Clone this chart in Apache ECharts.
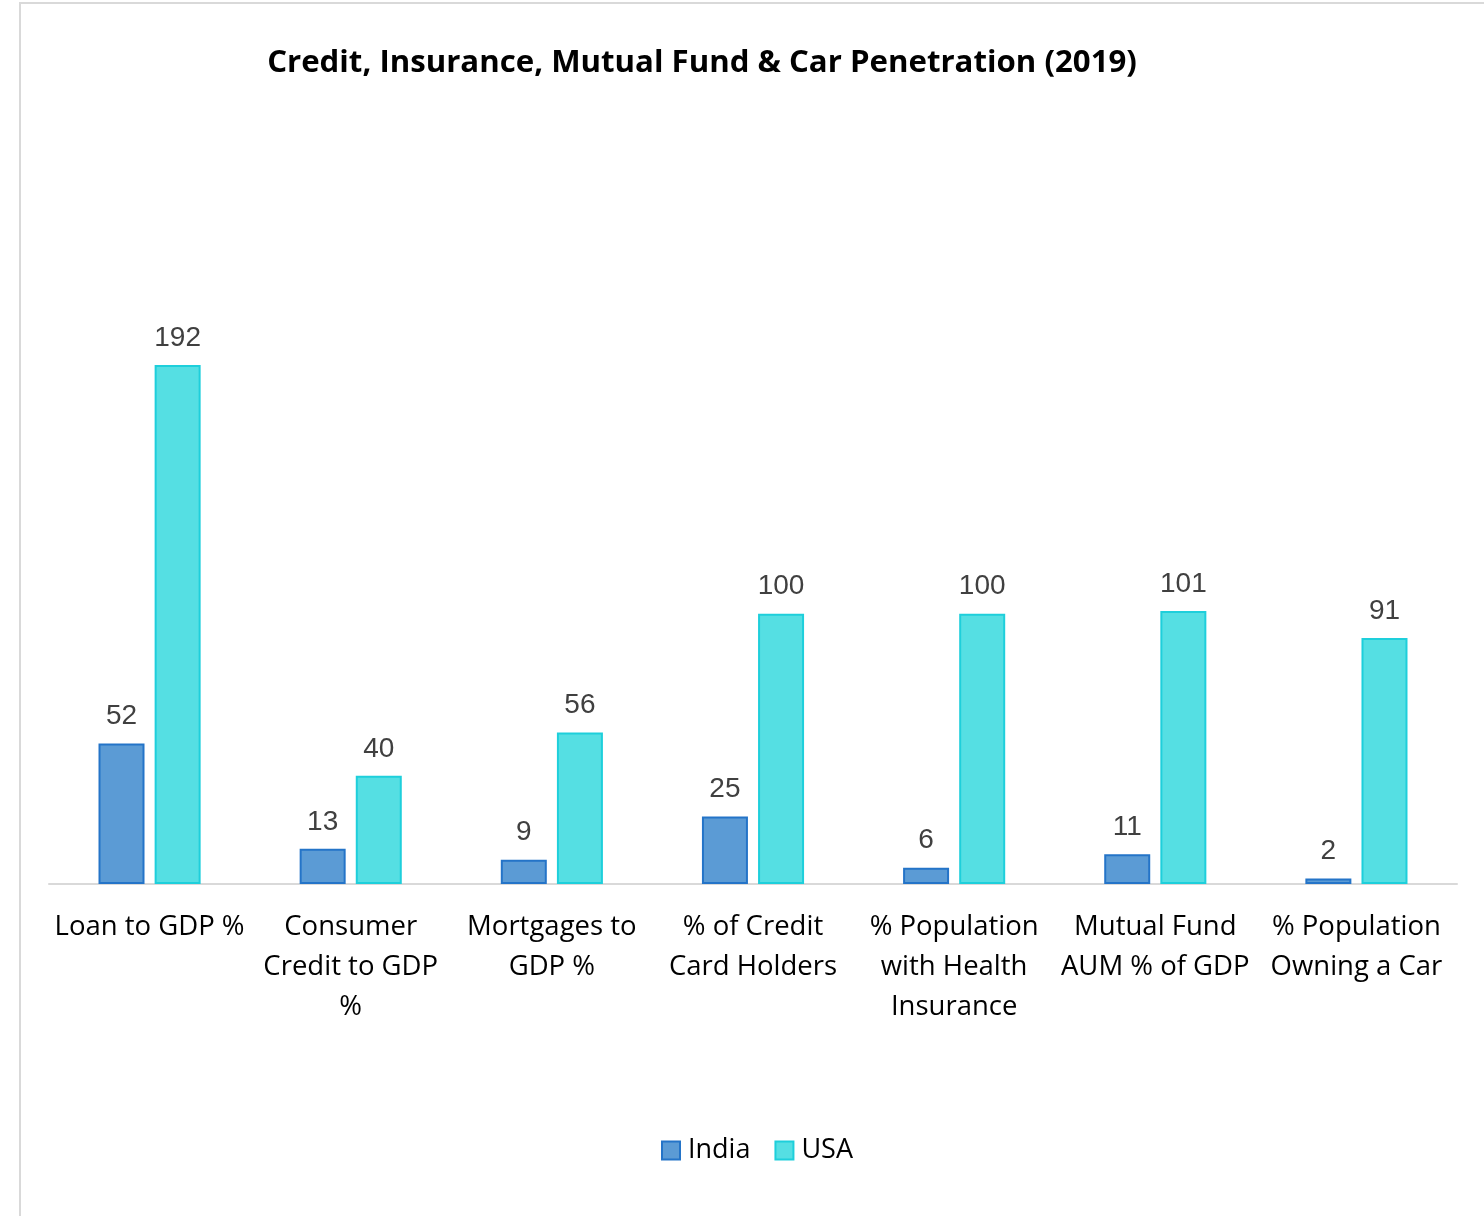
<!DOCTYPE html>
<html><head><meta charset="utf-8">
<script src="https://cdn.jsdelivr.net/npm/echarts@6/dist/echarts.min.js"></script>
<style>html,body{margin:0;padding:0;background:#fff;}#c{width:1484px;height:1216px;}</style>
</head><body><div id="c"></div>
<script>
const categories = ["Loan to GDP %", "Consumer\nCredit to GDP\n%", "Mortgages to\nGDP %", "% of Credit\nCard Holders", "% Population\nwith Health\nInsurance", "Mutual Fund\nAUM % of GDP", "% Population\nOwning a Car"];
const india = [52, 13, 9, 25, 6, 11, 2];
const usa = [192, 40, 56, 100, 100, 101, 91];
const seriesNames = ["India", "USA"];

const chart = echarts.init(document.getElementById('c'));
const labelStyle = {show: true, position: 'top', distance: 13, color: '#404040', fontSize: 28, fontFamily: 'Liberation Sans, Arial, sans-serif'};
chart.setOption({
  animation: false,
  graphic: [{type: 'rect', shape: {x: 20, y: 3, width: 1600, height: 1400}, style: {fill: 'none', stroke: '#d9d9d9', lineWidth: 2}, silent: true}],
  title: {text: 'Credit, Insurance, Mutual Fund & Car Penetration (2019)', left: 697, top: 43, textAlign: 'center',
    textStyle: {fontSize: 31.2, fontWeight: 'bold', color: '#000', fontFamily: 'Open Sans, sans-serif'}},
  legend: {data: seriesNames, left: 656, top: 1132, itemWidth: 18, itemHeight: 18, itemGap: 24, icon: 'rect',
    textStyle: {fontSize: 27, color: '#000', fontFamily: 'Open Sans, sans-serif', padding: [0, 0, 0, 3]}},
  grid: {left: 49, right: 27, top: 208.2, bottom: 332, containLabel: false},
  xAxis: {type: 'category', data: categories,
    axisLine: {lineStyle: {color: '#d9d9d9', width: 2}}, axisTick: {show: false},
    axisLabel: {interval: 0, fontSize: 27.5, lineHeight: 40, color: '#000', margin: 23, fontFamily: 'Open Sans, sans-serif'}},
  yAxis: {type: 'value', min: 0, max: 250, show: false, splitLine: {show: false}},
  series: [
    {name: seriesNames[0], type: 'bar', data: india, barWidth: 46, barGap: '22%',
      itemStyle: {color: '#5B9BD5', borderColor: '#2474C8', borderWidth: 2}, label: labelStyle},
    {name: seriesNames[1], type: 'bar', data: usa, barWidth: 46,
      itemStyle: {color: '#55DFE3', borderColor: '#1ECFDB', borderWidth: 2}, label: labelStyle}
  ]
});
</script></body></html>
